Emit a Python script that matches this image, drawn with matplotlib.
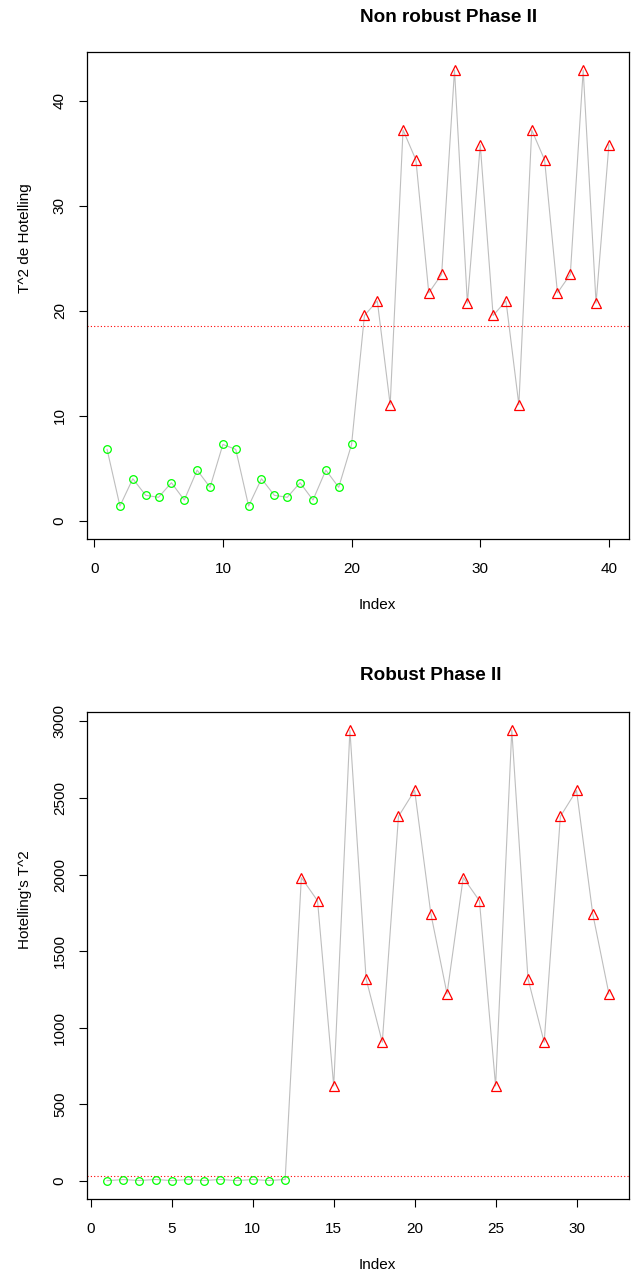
import matplotlib
matplotlib.use('Agg')
import matplotlib.pyplot as plt

plt.rcParams['font.family'] = ['Liberation Sans', 'DejaVu Sans']

# T^2 values
nonrobust_t2 = [6.81, 1.42, 4.02, 2.44, 2.25, 3.64, 1.99, 4.84, 3.20, 7.28,
                6.81, 1.42, 4.02, 2.44, 2.25, 3.64, 1.99, 4.84, 3.20, 7.28,
                19.55, 20.94, 11.06, 37.20, 34.35, 21.70, 23.46, 42.90, 20.72, 35.80,
                19.55, 20.94, 11.06, 37.20, 34.35, 21.70, 23.46, 42.90, 20.72, 35.80]
nonrobust_in = 20
nonrobust_ucl = 18.52

robust_t2 = [2.0, 9.0, 3.0, 9.5, 2.5, 9.0, 3.0, 9.5, 2.5, 9.0, 3.0, 9.5,
             1980, 1829, 620, 2943, 1320, 905, 2379, 2549, 1744, 1221,
             1980, 1829, 620, 2943, 1320, 905, 2379, 2549, 1744, 1221]
robust_in = 12
robust_ucl = 32.6

top_xticks = [0, 10, 20, 30, 40]
top_yticks = [0, 10, 20, 30, 40]
bot_xticks = [0, 5, 10, 15, 20, 25, 30]
bot_yticks = [0, 500, 1000, 1500, 2000, 2500, 3000]

W, H = 641, 1279
fig = plt.figure(figsize=(W / 100, H / 100), dpi=100)


def box(left, top, right, bottom):
    return [left / W, 1 - bottom / H, (right - left) / W, (bottom - top) / H]


def px_text(x, y, s, **kw):
    fig.text(x / W, 1 - y / H, s, **kw)


def draw(ax, values, n_in, ucl, xticks, yticks):
    n = len(values)
    idx = list(range(1, n + 1))
    ax.plot(idx, values, color='#bebebe', lw=0.8, zorder=1)
    ax.plot(idx[:n_in], values[:n_in], ls='none', marker='o', ms=5.5,
            mfc='none', mec='#00ff00', mew=0.9, zorder=2)
    ax.plot(idx[n_in:], values[n_in:], ls='none', marker='^', ms=7,
            mfc='none', mec='#ff0000', mew=0.9, zorder=2)
    ax.axhline(ucl, color='#ff0000', ls=(0, (1, 2)), lw=0.8, zorder=1)
    pad = 0.04 * (n - 1)
    ax.set_xlim(1 - pad, n + pad)
    top = max(values)
    ax.set_ylim(-0.04 * top, 1.04 * top)
    ax.set_xticks(xticks)
    ax.set_yticks(yticks)
    for s in ax.spines.values():
        s.set_linewidth(0.9)
    ax.tick_params(direction='out', length=5.5, width=0.8, labelsize=11)
    ax.tick_params(axis='x', pad=11)
    ax.tick_params(axis='y', labelrotation=90, pad=9)
    for lab in ax.get_yticklabels():
        lab.set_va('center')


ax1 = fig.add_axes(box(87, 52, 629, 539))
draw(ax1, nonrobust_t2, nonrobust_in, nonrobust_ucl, top_xticks, top_yticks)
ax2 = fig.add_axes(box(87, 712, 629, 1199))
draw(ax2, robust_t2, robust_in, robust_ucl, bot_xticks, bot_yticks)

px_text(360, 17, 'Non robust Phase II', fontsize=13.6, fontweight='bold', ha='left', va='center')
px_text(360, 676, 'Robust Phase II', fontsize=13.6, fontweight='bold', ha='left', va='center')
px_text(377, 605, 'Index', fontsize=11, ha='center', va='center')
px_text(377, 1265, 'Index', fontsize=11, ha='center', va='center')
px_text(25, 238, 'T^2 de Hotelling', fontsize=11, rotation=90, ha='center', va='center')
px_text(25, 900, "Hotelling's T^2", fontsize=11, rotation=90, ha='center', va='center')

fig.savefig('out.png', dpi=100)
